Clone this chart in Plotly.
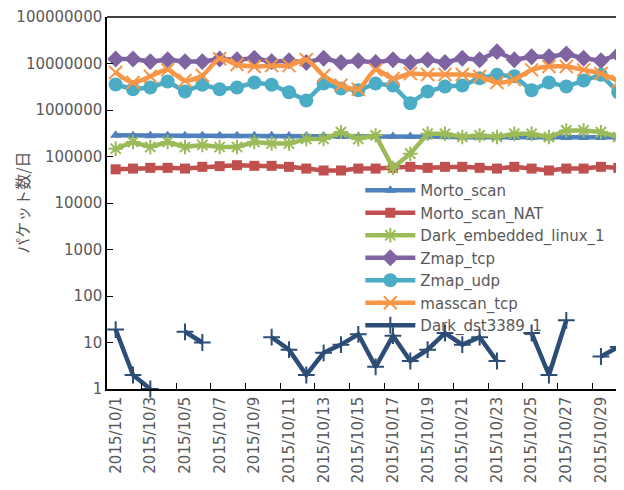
import plotly.graph_objects as go

dates = [f"2015/10/{d}" for d in range(1, 31)]

morto_scan = [285000, 280000, 280000, 280000, 280000, 280000, 280000, 280000, 280000, 280000,
              275000, 275000, 275000, 270000, 270000, 270000, 270000, 270000, 265000, 265000,
              260000, 260000, 255000, 255000, 255000, 250000, 255000, 255000, 255000, 260000]
morto_scan_nat = [53000, 55000, 57000, 57000, 55000, 60000, 62000, 65000, 63000, 63000,
                  60000, 55000, 50000, 50000, 55000, 55000, 57000, 60000, 57000, 60000,
                  60000, 57000, 55000, 60000, 55000, 50000, 55000, 55000, 60000, 57000]
dark_embedded = [147000, 205000, 160000, 205000, 160000, 177000, 160000, 160000, 205000, 190000,
                 190000, 238000, 238000, 335000, 238000, 285000, 57000, 115000, 309000, 309000,
                 262000, 285000, 262000, 309000, 309000, 262000, 364000, 364000, 335000, 262000]
zmap_tcp = [12500000, 12500000, 11000000, 12000000, 11000000, 11000000, 12500000, 12000000, 13000000, 11000000,
            11500000, 10500000, 13000000, 10500000, 11500000, 10500000, 12000000, 10500000, 12000000, 10500000,
            13000000, 12000000, 18000000, 12000000, 14000000, 14000000, 16000000, 13000000, 11500000, 15500000]
zmap_udp = [3540000, 2800000, 3050000, 4100000, 2500000, 3500000, 2800000, 3050000, 3900000, 3500000,
            2400000, 1600000, 3700000, 2900000, 2650000, 3700000, 3350000, 1400000, 2500000, 3200000,
            3350000, 4800000, 5700000, 5300000, 2650000, 3900000, 3200000, 4300000, 5700000, 2400000]
masscan_tcp = [6400000, 3900000, 5300000, 7300000, 4300000, 5500000, 12700000, 9500000, 8600000, 9000000,
               9000000, 12000000, 5500000, 3400000, 2800000, 7300000, 4750000, 6100000, 5800000, 5800000,
               5800000, 5300000, 3900000, 4500000, 7300000, 8600000, 8600000, 7300000, 6100000, 4100000]
dark_dst3389 = [19, 2, 1, None, 17, 10, None, None, None, 13,
                7, 2, 6, 9, 15, 3, 14, 4, 7, 16,
                9, 13, 4, None, 16, 2, 30, None, 5, 8]

y_tickvals = [1, 10, 100, 1000, 10000, 100000, 1000000, 10000000, 100000000]
y_ticktext = [str(v) for v in y_tickvals]
x_tick_idx = list(range(0, 30, 2))
x_ticktext = [dates[i] for i in x_tick_idx]

x = list(range(30))
FONT = "DejaVu Sans, Noto Sans CJK JP, sans-serif"
GREY = "#595959"
LW = 4.5

series = [
    ("Morto_scan", morto_scan, "#4F81BD", "triangle-up", 10, None, "linear"),
    ("Morto_scan_NAT", morto_scan_nat, "#C0504D", "square", 10, None, "linear"),
    ("Dark_embedded_linux_1", dark_embedded, "#9BBB59", "asterisk-open", 12, 2, "linear"),
    ("Zmap_tcp", zmap_tcp, "#8064A2", "diamond", 13, None, "linear"),
    ("Zmap_udp", zmap_udp, "#4BACC6", "circle", 14, None, "linear"),
    ("masscan_tcp", masscan_tcp, "#F79646", "x-thin-open", 13, 2, "spline"),
    ("Dark_dst3389_1", dark_dst3389, "#2C4D75", "cross-thin-open", 12, 2, "linear"),
]

fig = go.Figure()
for name, vals, color, sym, size, mlw, shape in series:
    marker = dict(symbol=sym, size=size, color=color)
    if mlw:
        marker["line"] = dict(color=color, width=mlw)
    fig.add_trace(go.Scatter(
        x=x, y=vals, name=name, mode="lines+markers",
        line=dict(color=color, width=LW, shape=shape, smoothing=0.8),
        marker=marker, connectgaps=False, cliponaxis=False,
    ))

fig.update_layout(
    width=616, height=482,
    margin=dict(l=99, r=0, t=6, b=101),
    paper_bgcolor="white", plot_bgcolor="white",
    font=dict(family=FONT, size=15, color=GREY),
    showlegend=True,
    legend=dict(x=0.49, y=0.578, xanchor="left", yanchor="top",
                bgcolor="rgba(0,0,0,0)", font=dict(size=15, color=GREY),
                tracegroupgap=0, itemwidth=50),
    xaxis=dict(range=[-0.5, 29.33], tickmode="array", tickvals=x_tick_idx, ticktext=x_ticktext,
               tickangle=-90, ticks="", showgrid=False, zeroline=False,
               showline=True, linecolor="black", linewidth=1.5,
               tickfont=dict(size=15, color=GREY), ticklabeloverflow="allow",
               minor=dict(tickmode="array", tickvals=[i + 1.5 for i in range(0, 29, 2)],
                          ticks="inside", ticklen=6, tickwidth=1.2, tickcolor="black", showgrid=False)),
    yaxis=dict(type="log", range=[0, 8], tickmode="array", tickvals=y_tickvals, ticktext=y_ticktext,
               ticks="inside", ticklen=6, tickwidth=1.2, tickcolor="black",
               showgrid=False, zeroline=False, showline=True, linecolor="black", linewidth=1.5,
               tickfont=dict(size=15, color=GREY), ticklabeloverflow="allow"),
    shapes=[dict(type="line", xref="paper", yref="paper", x0=0, x1=1, y0=1, y1=1,
                 line=dict(color="black", width=1.5))],
    annotations=[dict(text="パケット数/日", xref="paper", yref="paper", x=-0.165, y=0.5,
                      textangle=-90, showarrow=False, xanchor="center", yanchor="middle",
                      font=dict(size=16, color=GREY, family="Noto Sans CJK JP"))],
)

fig.write_html("out.html")
